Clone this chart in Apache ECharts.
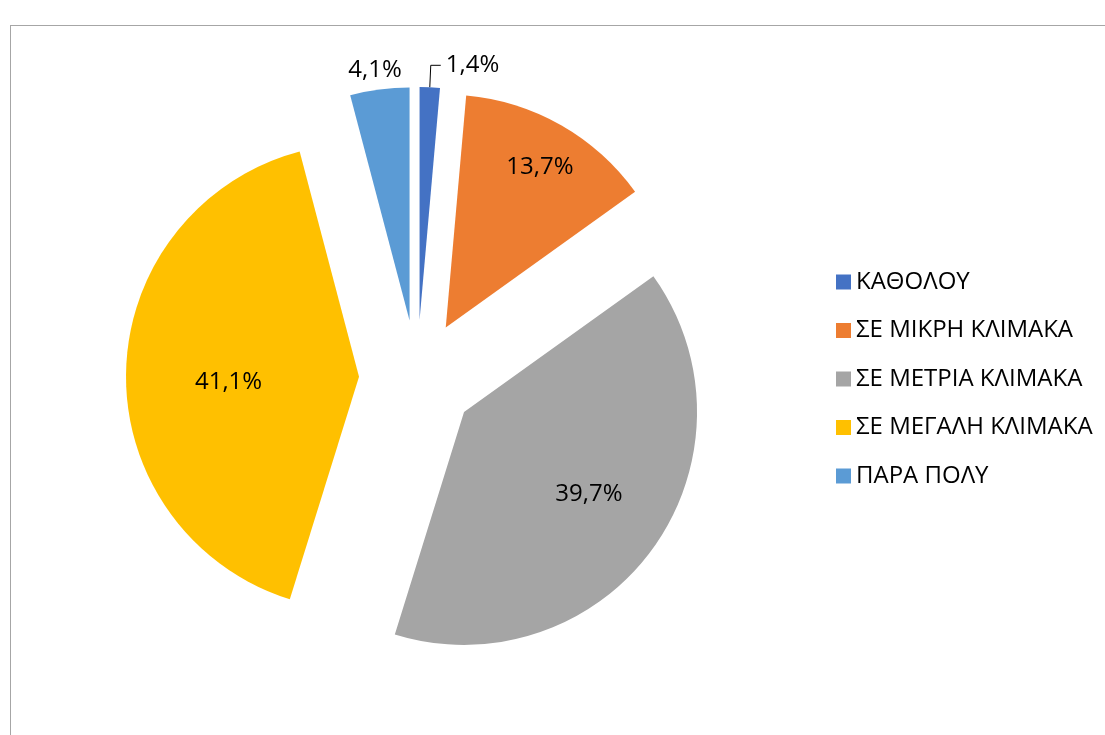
<!DOCTYPE html>
<html>
<head>
<meta charset="utf-8">
<script src="https://cdn.jsdelivr.net/npm/echarts@6/dist/echarts.min.js"></script>
<style>
html, body { margin: 0; padding: 0; background: #fff; overflow: hidden; width: 1105px; height: 735px; }
#frame { position: absolute; left: 10px; top: 25px; width: 1200px; height: 800px; border-left: 1px solid #a6a6a6; border-top: 1px solid #a6a6a6; }
#chart { position: absolute; left: 0; top: 0; width: 1105px; height: 735px; }
</style>
</head>
<body>
<div id="frame"></div>
<div id="chart"></div>
<script>
// categories / values
var categories = ['ΚΑΘΟΛΟΥ', 'ΣΕ ΜΙΚΡΗ ΚΛΙΜΑΚΑ', 'ΣΕ ΜΕΤΡΙΑ ΚΛΙΜΑΚΑ', 'ΣΕ ΜΕΓΑΛΗ ΚΛΙΜΑΚΑ', 'ΠΑΡΑ ΠΟΛΥ'];
var values = [1.4, 13.7, 39.7, 41.1, 4.1];
var colors = ['#4472C4', '#ED7D31', '#A5A5A5', '#FFC000', '#5B9BD5'];

// label placement per slice (inside / outside) and small nudges
var labelPos = ['outside', 'inside', 'inside', 'inside', 'outside'];
var labelNudge = [[0, 0], [35, -57], [28, 12], [-11, 8], [40, 3]];

var FONT = '"Open Sans", "Noto Sans", sans-serif';

var seriesData = [];
for (var i = 0; i < values.length; i++) {
    seriesData.push({
        name: categories[i],
        value: values[i],
        selected: true,
        label: { position: labelPos[i] },
        labelLine: { show: i === 0 }
    });
}

var myChart = echarts.init(document.getElementById('chart'));
var option = {
    animation: false,
    color: colors,
    legend: {
        orient: 'vertical',
        left: 836,
        top: 270,
        padding: 0,
        icon: 'rect',
        itemWidth: 15,
        itemHeight: 15,
        itemGap: 24.5,
        selectedMode: false,
        textStyle: { fontFamily: FONT, fontSize: 24, color: '#000', lineHeight: 24 },
        data: categories
    },
    series: [{
        type: 'pie',
        center: [417, 378],
        radius: 233,
        startAngle: 90,
        clockwise: true,
        selectedMode: 'multiple',
        selectedOffset: 58,
        avoidLabelOverlap: false,
        emphasis: { disabled: true },
        label: {
            fontFamily: FONT,
            fontSize: 24,
            color: '#000',
            formatter: function (p) {
                return p.value.toFixed(1).replace('.', ',') + '%';
            }
        },
        labelLine: {
            length: 22,
            length2: 10,
            lineStyle: { color: '#000', width: 1 }
        },
        labelLayout: function (p) {
            var n = labelNudge[p.dataIndex];
            return { dx: n[0], dy: n[1] };
        },
        data: seriesData
    }]
};
myChart.setOption(option);
</script>
</body>
</html>
